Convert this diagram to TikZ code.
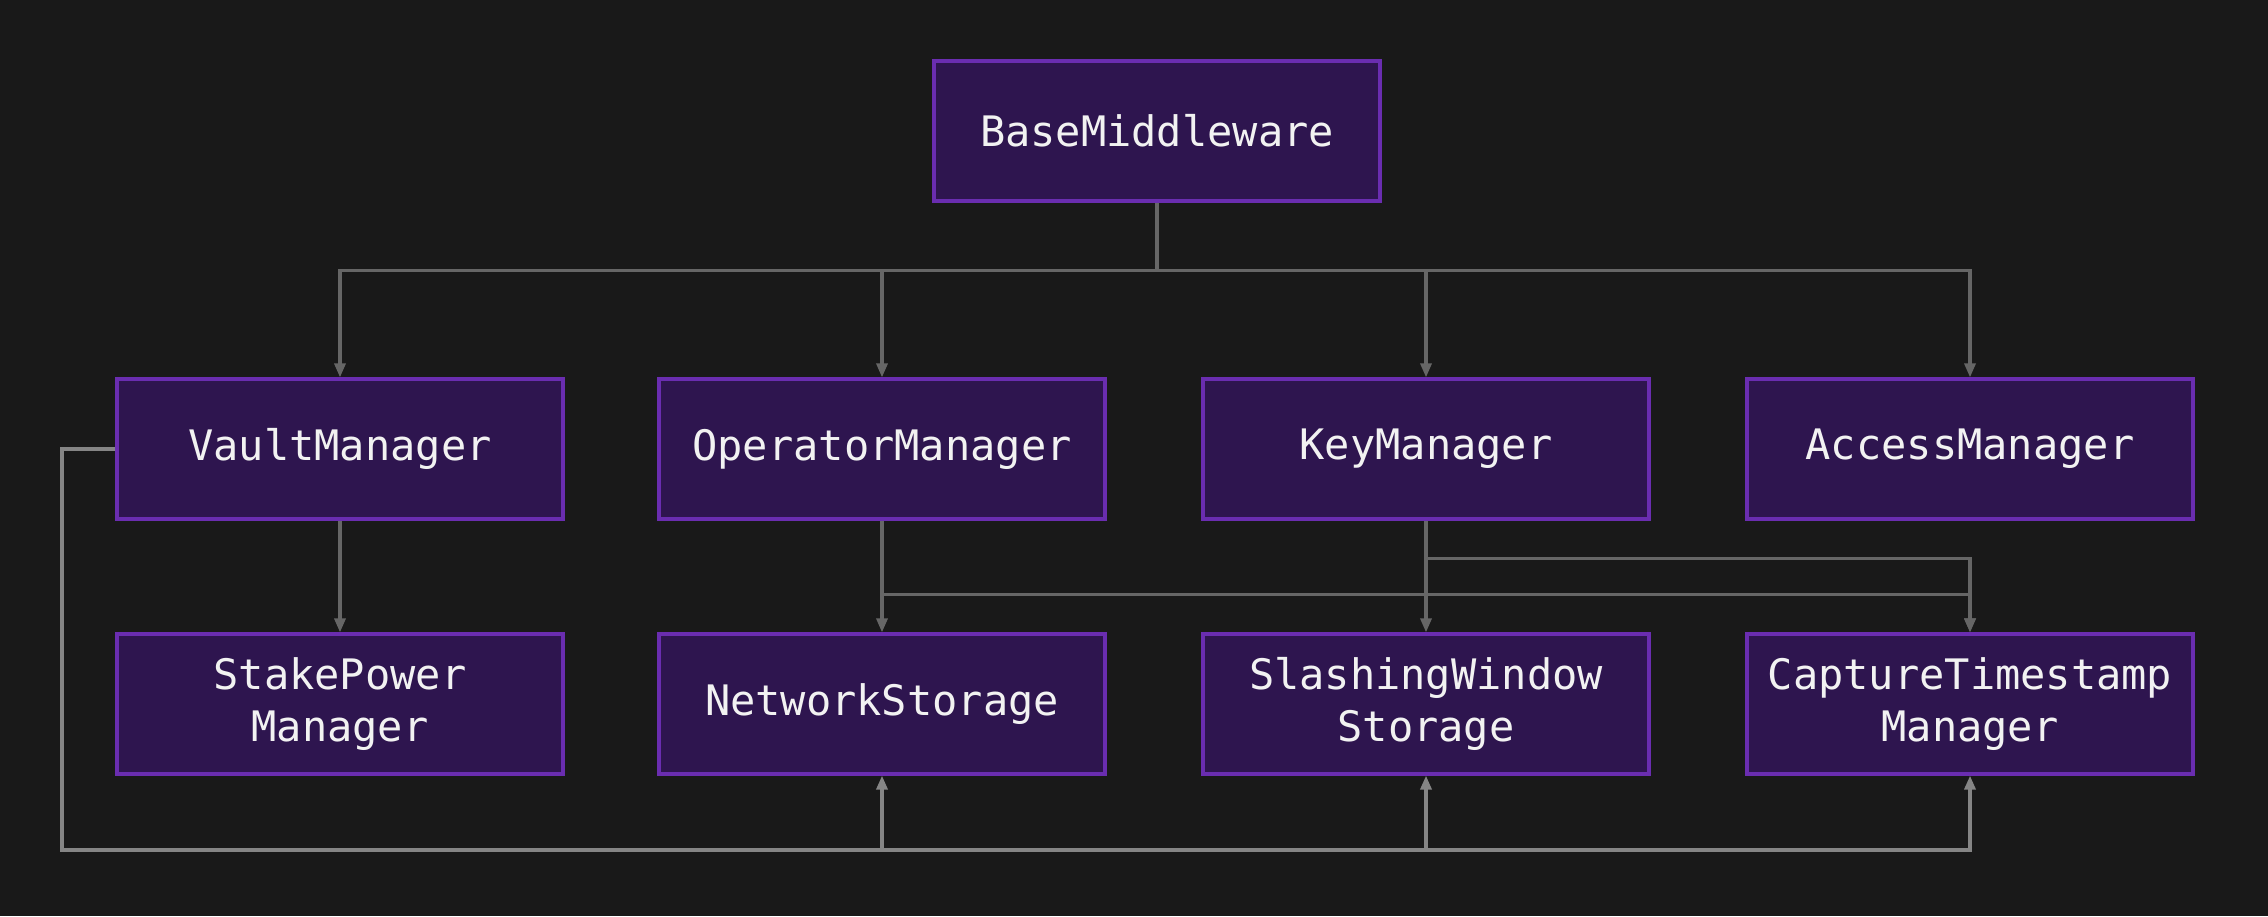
\documentclass[tikz,border=0pt]{standalone}
\usepackage{fontspec}
\newfontfamily\diagmono{DejaVu Sans Mono}
\usetikzlibrary{arrows.meta}
\definecolor{bgc}{HTML}{191919}
\definecolor{boxfill}{HTML}{2E154F}
\definecolor{boxline}{HTML}{6A2DB0}
\definecolor{linetop}{HTML}{666666}
\definecolor{linebot}{HTML}{858585}
\definecolor{txt}{HTML}{F2F2F2}
\tikzset{
  mbox/.style={draw=boxline, fill=boxfill, line width=3.2pt, minimum width=446pt, minimum height=140pt,
    inner sep=0pt, align=center, text=txt, font=\diagmono\fontsize{42}{52}\selectfont},
  conn/.style={draw=linetop, line width=3.2pt, -{Triangle[length=14pt,width=11pt]}},
  connb/.style={draw=linebot, line width=3.4pt, -{Triangle[length=14pt,width=11pt]}},
  plain/.style={draw=linebot, line width=3.4pt}
}
\begin{document}
\begin{tikzpicture}[x=1pt,y=-1pt]
\fill[bgc] (0,0) rectangle (2268,916);
\useasboundingbox (0,0) rectangle (2268,916);

\node[mbox] (base) at (1157,131) {BaseMiddleware};
\node[mbox] (vault) at (340,449) {VaultManager};
\node[mbox] (oper) at (882,449) {OperatorManager};
\node[mbox] (key) at (1426,449) {KeyManager};
\node[mbox] (access) at (1970,449) {AccessManager};
\node[mbox] (stake) at (340,704) {StakePower\\Manager};
\node[mbox] (netst) at (882,704) {NetworkStorage};
\node[mbox] (slash) at (1426,704) {SlashingWindow\\Storage};
\node[mbox] (capt) at (1970,704) {CaptureTimestamp\\Manager};

% top bus
\draw[conn] (base.south) -- ++(0,68) -| (vault.north);
\draw[conn] (base.south) -- ++(0,68) -| (oper.north);
\draw[conn] (base.south) -- ++(0,68) -| (key.north);
\draw[conn] (base.south) -- ++(0,68) -| (access.north);

% row 1 to row 2
\draw[conn] (vault.south) -- (stake.north);
\draw[conn] (oper.south) -- (netst.north);
\draw[conn] (key.south) -- (slash.north);
\draw[conn] (oper.south) -- ++(0,74) -| (capt.north);
\draw[conn] (key.south) -- ++(0,38) -| (capt.north);

% bottom bus from VaultManager
\coordinate (lft) at (62,850);
\draw[plain] (vault.west) -| (lft) -- (netst.south |- lft);
\draw[connb] (lft) -| (netst.south);
\draw[connb] (lft) -| (slash.south);
\draw[connb] (lft) -| (capt.south);
\end{tikzpicture}
\end{document}
